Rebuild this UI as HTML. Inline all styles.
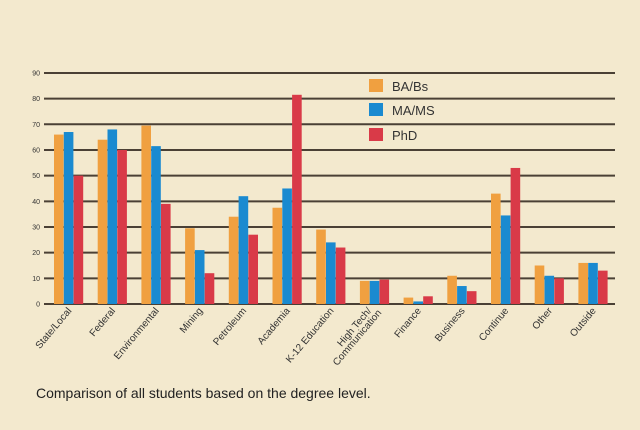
<!DOCTYPE html>
<html><head><meta charset="utf-8"><style>
body{margin:0;background:#f3e9ce;}
svg{display:block}
text{font-family:"Liberation Sans",sans-serif;}
</style></head><body>
<svg width="640" height="430" viewBox="0 0 640 430" xmlns="http://www.w3.org/2000/svg">
<rect width="640" height="430" fill="#f3e9ce"/>
<g id="grid" stroke="#4a4035" stroke-width="2"></g>
<g id="yl" font-size="7" fill="#333" text-anchor="end"></g>
<g id="bars"></g>
<g id="xl" font-size="10" fill="#333" text-anchor="end"></g>
<rect x="369" y="79" width="14" height="13" fill="#f0a040"/>
<rect x="369" y="103" width="14" height="13" fill="#1a8ad0"/>
<rect x="369" y="128" width="14" height="13" fill="#d93a48"/>
<text x="392" y="91" font-size="13" fill="#333">BA/Bs</text>
<text x="392" y="115" font-size="13" fill="#333">MA/MS</text>
<text x="392" y="140" font-size="13" fill="#333">PhD</text>
<text x="36" y="398" font-size="14" fill="#222">Comparison of all students based on the degree level.</text>
</svg>
<script>
var ns="http://www.w3.org/2000/svg";
function el(p,t,a,txt){var e=document.createElementNS(ns,t);for(var k in a)e.setAttribute(k,a[k]);if(txt)e.textContent=txt;document.getElementById(p).appendChild(e);return e;}
var y0=304,s=25.67/10;
for(var i=0;i<=9;i++){var y=y0-i*25.67;el('grid','line',{x1:44,x2:615,y1:y,y2:y});el('yl','text',{x:40,y:y+2.5},String(i*10));}
var d=[[66,67,50],[64,68,60],[69.5,61.5,39],[29.5,21,12],[34,42,27],[37.5,45,81.5],[29,24,22],[9,9,9.5],[2.5,1,3],[11,7,5],[43,34.5,53],[15,11,10],[16,16,13]];
var names=["State/Local","Federal","Environmental","Mining","Petroleum","Academia","K-12 Education","High Tech/|Communication","Finance","Business","Continue","Other","Outside"];
var cols=["#f0a040","#1a8ad0","#d93a48"];
for(var g=0;g<13;g++){var x=54+g*43.7;
for(var j=0;j<3;j++){var h=d[g][j]*s;el('bars','rect',{x:x+j*9.8,y:y0-h,width:9.6,height:h,fill:cols[j]});}
var cx=x+18,parts=names[g].split('|');
if(parts.length==1){el('xl','text',{transform:'translate('+cx+',311) rotate(-50)'},parts[0]);}
else{el('xl','text',{transform:'translate('+(cx-6)+',311) rotate(-50)'},parts[0]);el('xl','text',{transform:'translate('+(cx+4)+',313) rotate(-50)'},parts[1]);}
}
</script>
</body></html>
